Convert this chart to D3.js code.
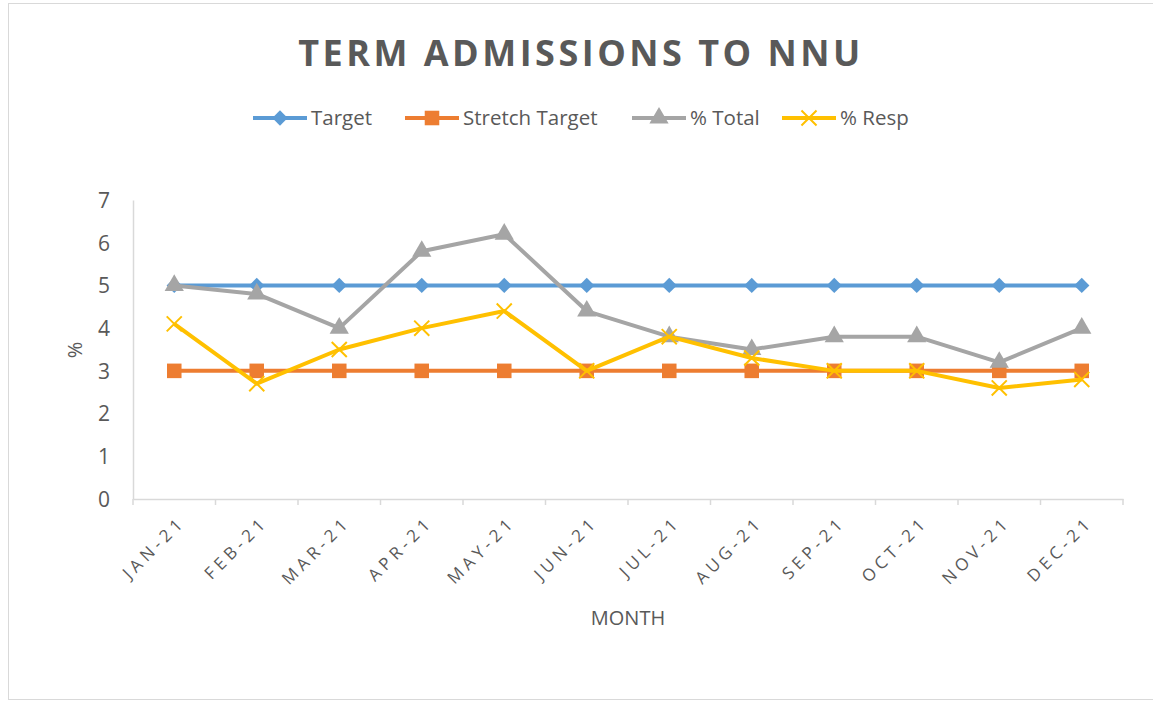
<!DOCTYPE html>
<html>
<head>
<meta charset="utf-8">
<script src="https://cdn.jsdelivr.net/npm/d3@7"></script>
<style>
  body { margin: 0; background: #fff; }
  svg, svg text { font-family: "Open Sans", sans-serif; }
</style>
</head>
<body>
<div class="canvas"></div>
<script>
// chart data
const months = ['JAN-21','FEB-21','MAR-21','APR-21','MAY-21','JUN-21','JUL-21','AUG-21','SEP-21','OCT-21','NOV-21','DEC-21'];
const target = [5,5,5,5,5,5,5,5,5,5,5,5];
const stretchTarget = [3,3,3,3,3,3,3,3,3,3,3,3];
const pctTotal = [5.0,4.8,4.0,5.8,6.2,4.4,3.8,3.5,3.8,3.8,3.2,4.0];
const pctResp = [4.1,2.7,3.5,4.0,4.4,3.0,3.8,3.3,3.0,3.0,2.6,2.8];
const yTicks = [0,1,2,3,4,5,6,7];

const series = [
    {name: 'Target', values: target, colour: '#5B9BD5', marker: 'diamond'},
    {name: 'Stretch Target', values: stretchTarget, colour: '#ED7D31', marker: 'square'},
    {name: '% Total', values: pctTotal, colour: '#A5A5A5', marker: 'triangle'},
    {name: '% Resp', values: pctResp, colour: '#FFC000', marker: 'cross'}
];

const dims = {width: 1153, height: 703};
const plot = {left: 133, right: 1123, top: 200, bottom: 499};
const textCol = '#595959';

const svg = d3.select('.canvas')
    .append('svg')
    .attr('width', dims.width)
    .attr('height', dims.height);

// chart border
svg.append('rect')
    .attr('x', 8.5).attr('y', 3.5)
    .attr('width', dims.width).attr('height', 696)
    .attr('fill', 'none')
    .attr('stroke', '#d9d9d9');

const x = d3.scaleBand()
    .domain(months)
    .range([plot.left, plot.right]);

const y = d3.scaleLinear()
    .domain([0, 7])
    .range([plot.bottom, plot.top]);

// title
svg.append('text')
    .attr('x', 581).attr('y', 66)
    .attr('text-anchor', 'middle')
    .attr('fill', textCol)
    .style('font-size', '36px')
    .style('font-weight', 'bold')
    .style('letter-spacing', '3.5px')
    .text('TERM ADMISSIONS TO NNU');

// y axis
const yAxis = d3.axisLeft(y).tickValues(yTicks).tickFormat(d3.format('d')).tickSize(0).tickPadding(23);
const yG = svg.append('g')
    .attr('transform', `translate(${plot.left},0)`)
    .call(yAxis)
    .attr('font-family', null);
yG.select('.domain').attr('stroke', '#d9d9d9').attr('stroke-width', 1.5);
yG.selectAll('text')
    .attr('fill', textCol)
    .style('font-size', '21px')
    .attr('dy', '0.35em');

// x axis
const xAxis = d3.axisBottom(x).tickSize(0).tickFormat('');
const xG = svg.append('g')
    .attr('transform', `translate(0,${plot.bottom})`)
    .call(xAxis)
    .attr('font-family', null);
xG.select('.domain').attr('stroke', '#d9d9d9').attr('stroke-width', 1.5);
xG.selectAll('.tick').remove();

// tick marks at the band edges
const edges = months.map(m => x(m)).concat([plot.right]);
xG.selectAll('line.edge')
    .data(edges)
    .enter().append('line')
    .attr('class', 'edge')
    .attr('x1', d => d).attr('x2', d => d)
    .attr('y1', 0).attr('y2', 6)
    .attr('stroke', '#d9d9d9')
    .attr('stroke-width', 1.5);

// rotated month labels (wide letter spacing like the original)
xG.selectAll('text.month')
    .data(months)
    .enter().append('text')
    .attr('class', 'month')
    .attr('transform', d => `translate(${x(d) + x.bandwidth()/2 + 8},${20}) rotate(-45)`)
    .attr('text-anchor', 'end')
    .attr('dy', '0.35em')
    .attr('fill', textCol)
    .style('font-size', '17px')
    .style('letter-spacing', '4.5px')
    .text(d => d);

// axis titles
svg.append('text')
    .attr('transform', 'translate(82,350) rotate(-90)')
    .attr('text-anchor', 'middle')
    .attr('fill', textCol)
    .style('font-size', '20px')
    .text('%');

svg.append('text')
    .attr('x', 628).attr('y', 625)
    .attr('text-anchor', 'middle')
    .attr('fill', textCol)
    .style('font-size', '20px')
    .text('MONTH');

// marker symbols
const symbolFor = {
    diamond: d3.symbol().type(d3.symbolDiamond2).size(150),
    square: d3.symbol().type(d3.symbolSquare2).size(270),
    triangle: d3.symbol().type(d3.symbolTriangle).size(160),
    cross: d3.symbol().type(d3.symbolX).size(150)
};

const drawMarker = (g, s, cx, cy) => {
    const p = g.append('path')
        .attr('transform', `translate(${cx},${cy})`)
        .attr('d', symbolFor[s.marker]());
    if (s.marker === 'cross') {
        p.attr('fill', 'none').attr('stroke', s.colour).attr('stroke-width', 2);
    } else {
        p.attr('fill', s.colour).attr('stroke', 'none');
    }
};

const line = d3.line()
    .x((d, i) => x(months[i]) + x.bandwidth()/2)
    .y(d => y(d));

// lines and markers
series.forEach(s => {
    const g = svg.append('g');
    g.append('path')
        .datum(s.values)
        .attr('d', line)
        .attr('fill', 'none')
        .attr('stroke', s.colour)
        .attr('stroke-width', 4)
        .attr('stroke-linejoin', 'round');
    s.values.forEach((v, i) => drawMarker(g, s, x(months[i]) + x.bandwidth()/2, y(v)));
});

// legend
const legendX = [253, 405, 632, 782];
const legendY = 118;
series.forEach((s, i) => {
    const g = svg.append('g');
    g.append('line')
        .attr('x1', legendX[i]).attr('x2', legendX[i] + 54)
        .attr('y1', legendY).attr('y2', legendY)
        .attr('stroke', s.colour)
        .attr('stroke-width', 4);
    drawMarker(g, s, legendX[i] + 27, legendY);
    g.append('text')
        .attr('x', legendX[i] + 58).attr('y', legendY)
        .attr('dy', '0.35em')
        .attr('fill', textCol)
        .style('font-size', '20.5px')
        .text(s.name);
});
</script>
</body>
</html>
